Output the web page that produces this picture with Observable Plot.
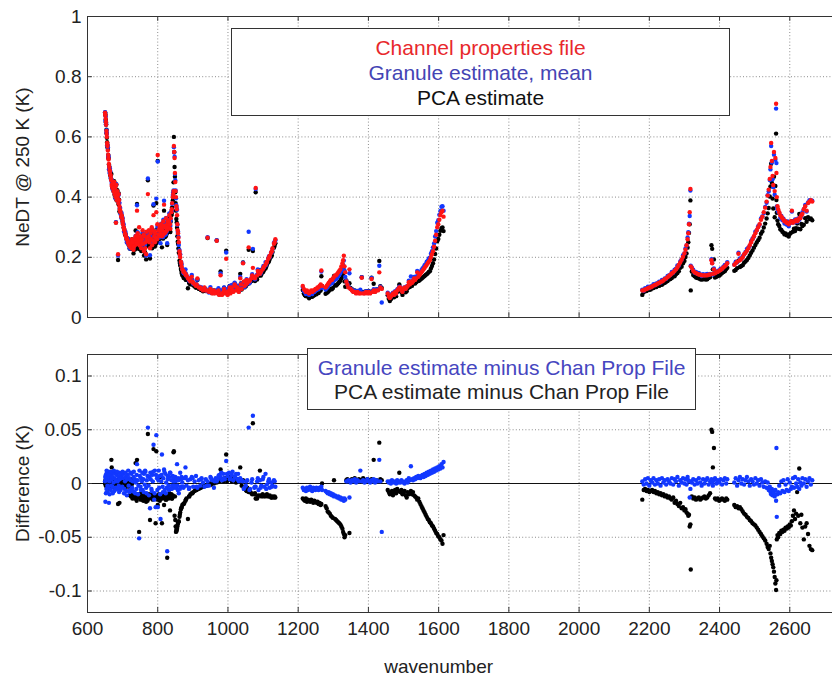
<!DOCTYPE html>
<html><head><meta charset="utf-8">
<script src="https://cdn.jsdelivr.net/npm/d3@7"></script>
<script src="https://cdn.jsdelivr.net/npm/@observablehq/plot@0.6"></script>
<style>
body{margin:0;background:#fff;font-family:"Liberation Sans",Arial,Helvetica,sans-serif;}
#wrap{position:relative;width:832px;height:675px;overflow:hidden;background:#fff;}
#wrap svg{position:absolute;left:0;}
.legend{position:absolute;box-sizing:border-box;background:#fff;border:1px solid #333;text-align:center;font-size:21px;}
</style></head><body><div id="wrap"></div>
<script>
// ---- Longwave band (wavenumber, channel-properties NeDT, granule diff, PCA diff)
const lwWave = [650,651,652,653,654,655,656,657,658,659,
660,661,662,664,666,668,669,671,673,674,
676,677,679,680,681,682,683,685,686,687,
688,689,691,692,694,697,699,701,703,705,
707,709,711,713,715,717,719,721,723,725,
727,729,731,733,735,737,739,741,743,745,
747,749,751,753,755,757,759,761,763,765,
767,769,772,774,776,778,780,782,784,786,
788,790,792,794,796,798,800,802,804,806,
808,810,812,814,816,818,820,822,824,826,
827,829,831,833,835,837,839,841,843,845,
846,848,849,850,851,852,853,855,856,858,
860,862,864,866,868,870,873,876,879,882,
886,889,893,897,901,905,909,913,917,921,
925,929,933,937,942,946,950,955,960,965,
968,971,975,979,983,987,991,995,999,1003,
1007,1011,1015,1019,1023,1027,1031,1035,1039,1043,
1047,1051,1055,1059,1063,1067,1071,1075,1079,1083,
1087,1091,1095,1099,1103,1107,1111,1115,1119,1123,
1127,1131,1135];
const lwProp = [.68,.67,.66,.64,.62,.60,.58,.57,.555,.54,
.525,.51,.50,.485,.47,.455,.44,.43,.44,.42,
.45,.41,.43,.40,.315,.44,.39,.42,.40,.21,
.38,.41,.37,.36,.35,.34,.33,.31,.30,.29,
.28,.27,.265,.26,.25,.245,.24,.235,.25,.23,
.26,.24,.225,.255,.24,.27,.25,.355,.28,.26,
.30,.25,.27,.23,.26,.29,.245,.22,.27,.25,
.21,.26,.41,.27,.25,.23,.28,.26,.24,.29,
.34,.27,.25,.28,.35,.26,.54,.29,.27,.30,
.28,.31,.27,.29,.32,.375,.28,.30,.33,.29,
.31,.32,.30,.34,.31,.33,.35,.38,.40,.42,
.57,.53,.48,.45,.42,.40,.37,.34,.31,.28,
.25,.22,.20,.185,.17,.16,.155,.15,.145,.14,
.13,.13,.12,.135,.115,.11,.105,.13,.10,.10,
.095,.09,.10,.09,.265,.085,.095,.08,.09,.085,
.255,.08,.075,.14,.075,.085,.08,.195,.075,.09,
.08,.10,.085,.11,.09,.10,.085,.13,.095,.18,
.105,.11,.115,.233,.125,.13,.165,.135,.43,.14,
.15,.145,.155,.16,.17,.175,.185,.195,.205,.215,
.23,.245,.26];
const lwGran = [.002,-.017,.008,.004,-.005,.010,-.008,.003,.011,-.004,
.006,-.018,.002,.009,-.006,.004,.007,-.003,.010,.001,
-.007,.005,.009,-.004,.002,.003,.008,-.005,.002,-.004,
.006,-.002,.010,.004,-.006,.007,-.003,.005,.009,-.005,
.002,.006,-.007,.004,.008,-.002,.005,-.006,.003,.009,
-.004,.002,.006,-.008,.004,.001,-.005,.018,.003,-.002,
-.051,.007,-.003,.005,.002,-.006,.004,.009,-.001,.011,
-.004,.003,.052,-.002,.006,-.023,.004,-.005,.008,.002,
.036,-.015,.012,-.022,.045,.005,-.022,.003,-.004,.007,
-.033,.002,.027,-.003,.005,.013,-.006,.009,.001,-.004,
-.063,.004,-.002,.006,.010,-.005,.003,-.002,.007,.002,
-.004,.004,-.003,.006,.002,-.004,.003,.018,-.002,.005,
-.009,.004,.010,-.003,.006,.001,-.004,.005,.015,-.002,
.003,-.005,.004,.006,-.003,.002,.007,-.004,.003,-.002,
.005,.001,-.003,.004,.002,-.002,.006,.003,-.004,.005,
.002,.004,.008,.006,.003,.009,.004,.021,.007,.010,
.005,.008,.003,.006,.009,.004,.002,.005,.003,.002,
-.004,-.002,.003,.052,-.005,.001,.063,-.004,-.003,.002,
-.006,.003,-.002,.004,-.003,.009,-.001,.002,-.004,.001,
-.002,.003,-.003];
const lwPca = [.000,.003,-.002,.001,.004,-.003,.002,-.004,.005,.000,
.003,-.002,.001,-.005,.004,.022,.015,.002,-.003,.000,
.003,-.002,.001,-.004,.001,.002,-.001,.003,.000,-.019,
-.003,.002,-.018,.001,-.002,.000,-.003,.002,-.001,.001,
-.004,.003,.000,-.002,.002,-.003,.001,-.001,.004,-.002,
.000,-.010,-.012,-.009,-.014,.019,-.011,.022,-.013,-.010,
-.045,-.012,-.015,-.009,-.013,-.011,-.016,-.014,-.010,-.012,
-.017,-.013,.046,-.012,-.014,-.034,-.011,-.013,-.010,-.015,
.032,-.012,-.014,-.037,.030,-.011,-.020,-.013,-.010,-.016,
.006,-.012,-.037,-.014,-.011,-.020,-.013,-.010,-.015,-.012,
-.069,-.011,-.014,-.009,-.025,-.012,-.010,-.014,-.011,.029,
.030,-.030,-.012,-.034,-.040,-.045,-.043,-.042,-.040,-.036,
-.035,-.031,-.027,-.024,-.022,-.020,-.019,-.018,-.016,-.014,
-.033,-.012,-.010,-.009,-.008,-.007,-.006,-.005,-.005,-.004,
-.003,-.003,-.002,-.002,-.001,.000,-.001,.001,.000,.002,
.001,.003,.002,.013,.004,.002,.005,.027,.003,.006,
.004,.002,.005,.003,.001,.004,.002,.015,-.002,.003,
-.005,-.006,-.004,-.008,-.007,-.009,.056,-.010,-.014,-.014,
-.011,.012,-.012,-.010,-.011,-.012,-.010,-.012,-.011,-.013,
-.012,-.013,-.013];

// ---- Longwave band, interleaved channels
const lw2Wave = [650.5,652.5,654.5,656.5,659.5,663,665,667,670,672,
675,678,684,690,693,696,700,704,708,712,
716,720,724,728,732,736,740,744,748,752,
756,760,764,768,771,775,779,783,787,791,
795,799,803,807,811,815,819,823,828,832,
836,840,844,847,854,857,859,863,867,874,
880,890,899,911,923,940,952,962,973,981,
989,997,1005,1013,1021,1029,1037,1045,1053,1061,
1069,1077,1085,1093,1101,1109,1117,1125,1133];
const lw2Prop = [.675,.65,.61,.575,.53,.49,.475,.46,.435,.445,
.43,.415,.405,.39,.355,.335,.32,.295,.275,.26,
.25,.24,.245,.25,.235,.26,.245,.27,.24,.255,
.245,.275,.23,.285,.255,.29,.26,.30,.255,.285,
.265,.31,.275,.29,.30,.275,.305,.285,.30,.32,
.295,.36,.41,.55,.36,.29,.265,.21,.18,.15,
.14,.125,.12,.11,.095,.09,.085,.08,.09,.08,
.095,.085,.10,.09,.105,.095,.11,.12,.125,.12,
.14,.13,.155,.15,.165,.18,.20,.22,.25];
const lw2Gran = [.006,-.009,.012,-.002,.008,-.010,.011,-.002,.006,-.009,
.012,-.006,.011,-.008,.009,-.004,.011,-.009,.010,-.011,
.012,-.008,.010,-.007,.011,-.009,.008,-.010,.012,-.006,
.010,-.008,.012,-.009,.007,-.011,.010,-.007,.011,-.009,
.008,-.006,.012,-.010,.008,-.008,.011,-.009,.007,-.006,
.010,-.005,.006,-.002,.004,-.006,.003,-.005,.004,-.003,
.006,-.004,.005,-.003,.004,-.002,.005,.002,.007,.010,
.005,.009,.004,.011,.006,.009,.003,-.005,.002,-.006,
.004,-.003,.005,-.004,.006,-.005,.004,-.003,.002];
const lw2Pca = [.001,-.001,.002,-.003,.002,.000,-.003,.003,-.001,.002,
.000,.003,-.002,.001,-.001,.002,-.002,.000,.002,-.001,
.001,-.011,-.012,-.014,-.010,-.013,-.016,-.011,-.013,-.012,
-.015,-.011,-.013,-.012,-.016,-.010,-.013,-.012,-.014,-.011,
-.013,-.015,-.012,-.014,-.011,-.013,-.012,-.015,-.012,-.013,
-.011,-.014,-.012,.000,-.044,-.038,-.036,-.029,-.023,-.019,
-.015,-.012,-.009,-.006,-.004,-.002,-.001,.001,.003,.003,
.004,.002,.005,.003,.004,.002,.003,-.004,-.007,-.006,
-.010,-.009,-.012,-.011,-.012,-.011,-.012,-.013,-.012];

// ---- Midwave band
const mwWave = [1213,1216,1219,1222,1225,1228,1231,1234,1237,1240,
1243,1246,1249,1252,1255,1258,1261,1264,1266,1268,
1278,1281,1284,1287,1290,1293,1296,1299,1302,1305,
1308,1311,1314,1317,1320,1323,1326,1328,1330,1332,
1334,1337,1340,1343,1346,1349,1353,1357,1361,1365,
1369,1373,1377,1381,1385,1389,1393,1397,1401,1405,
1409,1413,1415,1419,1423,1427,1431,1434,1438,1455,
1458,1461,1464,1467,1470,1473,1476,1479,1482,1485,
1488,1491,1494,1497,1500,1503,1506,1509,1512,1515,
1518,1521,1524,1527,1530,1533,1536,1539,1542,1545,
1548,1551,1554,1557,1560,1563,1566,1569,1572,1575,
1578,1581,1584,1587,1590,1593,1596,1599,1602,1605,
1608,1611,1614];
const mwProp = [.105,.095,.09,.085,.09,.085,.08,.085,.09,.085,
.09,.09,.095,.095,.10,.10,.105,.11,.156,.105,
.10,.105,.11,.115,.12,.125,.125,.13,.135,.14,
.14,.145,.15,.155,.16,.17,.18,.19,.205,.17,
.15,.12,.11,.10,.16,.095,.09,.085,.085,.08,
.085,.08,.08,.132,.08,.08,.085,.08,.085,.08,
.128,.085,.09,.085,.09,.09,.15,.10,.095,.08,
.07,.065,.07,.075,.08,.075,.085,.08,.09,.095,
.10,.10,.09,.085,.095,.10,.095,.10,.105,.117,
.11,.12,.115,.12,.13,.125,.13,.15,.135,.14,
.145,.15,.155,.16,.165,.17,.175,.18,.185,.19,
.20,.21,.22,.235,.255,.275,.30,.31,.325,.34,
.35,.355,.335];
const mwGran = [-.004,-.006,-.005,-.007,-.004,-.006,-.005,-.003,-.006,-.007,
-.004,-.005,-.006,-.004,-.005,-.006,-.004,-.005,-.003,-.006,
-.007,-.008,-.009,-.008,-.010,-.009,-.011,-.010,-.012,-.011,
-.012,-.013,-.012,-.014,-.013,-.015,-.014,-.015,-.016,-.014,
-.015,.002,.002,.003,-.013,.001,.003,.002,.004,.001,
.003,.002,.012,.002,.003,.001,.002,.004,.002,.001,
.003,.002,.004,.001,.003,.002,.022,.002,-.045,.002,
.001,.002,.000,.003,.002,.001,.002,.000,.003,.001,
.002,.001,.003,.002,.001,.000,.002,.003,.001,.005,
.003,.016,.004,.003,.005,.004,.006,.005,.007,.006,
.005,.007,.008,.006,.009,.007,.010,.008,.011,.009,
.012,.010,.013,.011,.014,.012,.015,.013,.016,.014,
.018,.015,.020];
const mwPca = [-.014,-.015,-.016,-.014,-.017,-.015,-.016,-.017,-.015,-.016,
-.018,-.016,-.017,-.018,-.017,-.019,-.018,-.020,-.019,.000,
-.021,-.023,-.026,-.027,-.028,-.030,-.031,-.032,.003,-.033,
-.034,-.035,-.036,-.037,-.038,-.040,-.042,-.045,-.047,-.050,
-.048,.003,.004,.002,-.046,.003,.004,.002,.005,.003,
.002,.004,.003,.002,.005,.003,.002,.004,.003,.002,
.004,.003,.022,.002,.003,.002,.038,.004,.003,-.006,
-.008,-.010,-.009,-.007,-.011,-.008,-.006,-.009,-.005,-.007,
.010,-.008,-.006,-.010,-.009,-.007,-.011,-.013,-.008,-.010,
-.009,-.007,-.010,-.008,-.011,-.012,-.013,-.015,-.014,-.017,
-.019,-.021,-.023,-.025,-.027,-.029,-.031,-.033,-.034,-.036,
-.037,-.039,-.040,-.042,-.044,-.046,-.047,-.049,-.050,-.052,
-.053,-.056,-.048];

// ---- Shortwave band
const swWave = [2180,2184,2188,2192,2196,2200,2204,2208,2212,2216,
2220,2224,2228,2232,2236,2240,2244,2248,2252,2256,
2260,2264,2268,2272,2276,2280,2284,2288,2292,2296,
2300,2303,2306,2309,2311,2313,2315,2317,2318,2321,
2325,2329,2333,2337,2341,2345,2349,2353,2357,2361,
2365,2369,2373,2377,2379,2381,2384,2387,2391,2395,
2399,2403,2407,2411,2415,2419,2422,2442,2446,2450,
2454,2458,2462,2466,2470,2474,2478,2482,2486,2490,
2494,2498,2502,2506,2510,2514,2518,2522,2526,2530,
2534,2537,2540,2543,2545,2547,2549,2551,2553,2555,
2557,2559,2561,2562,2563,2565,2567,2570,2573,2576,
2579,2582,2585,2588,2591,2594,2597,2600,2603,2606,
2609,2612,2615,2618,2621,2624,2627,2630,2633,2636,
2640,2644,2648,2652,2656,2660,2664];
const swProp = [.09,.09,.093,.095,.097,.10,.10,.103,.106,.108,
.11,.113,.115,.118,.12,.123,.127,.13,.134,.138,
.142,.146,.15,.155,.16,.167,.175,.183,.192,.202,
.213,.225,.24,.26,.28,.31,.35,.427,.17,.165,
.155,.15,.148,.145,.143,.142,.14,.14,.14,.14,
.14,.142,.143,.19,.18,.145,.16,.147,.15,.152,
.155,.158,.162,.166,.17,.175,.18,.175,.18,.185,
.212,.19,.195,.20,.21,.215,.222,.23,.24,.25,
.26,.27,.28,.29,.30,.31,.325,.335,.35,.365,
.385,.405,.425,.46,.50,.58,.52,.47,.44,.55,
.42,.53,.71,.48,.40,.37,.36,.35,.34,.335,
.33,.325,.32,.32,.315,.315,.31,.315,.32,.355,
.315,.32,.32,.325,.32,.325,.33,.33,.34,.345,
.36,.37,.355,.38,.385,.39,.385];
const swGran = [.002,-.001,.004,.000,.005,-.002,.003,.001,.005,-.001,
.003,.000,.004,-.002,.005,.001,.003,-.001,.004,.002,
.000,.005,-.001,.004,.002,.006,-.002,.003,.001,.005,
.000,.004,-.001,.006,.003,.002,-.013,-.005,.002,.001,
.004,-.001,.003,.000,.005,.001,-.002,.004,.000,.003,
.005,-.001,.002,.004,.001,-.002,.003,.005,.000,.003,
.001,.004,-.001,.003,.005,.000,.004,.001,.005,-.002,
.003,.006,.000,.004,-.001,.003,.006,.002,-.002,.004,
.002,-.001,.005,.000,.003,-.002,.004,.001,-.003,.002,
-.004,.001,-.006,-.003,-.008,-.010,-.005,-.011,-.007,-.009,
-.012,-.006,-.016,.033,-.031,-.010,-.008,-.002,-.009,.002,
-.007,.003,-.008,-.001,-.006,.004,-.007,.001,-.005,-.003,
.005,-.004,.006,.000,-.003,.004,-.005,.001,-.002,.005,
.000,.004,-.003,.002,.005,-.001,.003];
const swPca = [-.015,-.006,-.005,-.007,-.006,-.008,-.007,-.006,-.008,-.007,
-.009,-.008,-.010,-.009,-.011,-.010,-.012,-.011,-.013,-.012,
-.014,-.015,-.013,-.018,-.016,-.019,-.021,-.018,-.023,-.022,
-.025,-.024,-.027,-.028,-.030,-.029,-.040,-.038,-.080,-.012,
-.014,-.013,-.015,-.014,-.013,-.015,-.014,-.013,-.012,-.014,
-.013,-.011,-.009,.050,.048,.015,.033,-.014,-.015,-.014,
-.016,-.015,-.014,-.015,-.016,-.014,-.015,-.020,-.022,-.021,
-.023,-.022,-.024,-.026,-.028,-.029,-.031,-.032,-.034,-.035,
-.037,-.038,-.039,-.041,-.043,-.045,-.047,-.049,-.051,-.053,
-.056,-.059,-.061,-.058,-.065,-.069,-.072,-.075,-.078,-.082,
-.087,-.093,-.099,-.090,-.052,-.048,-.050,-.046,-.047,-.044,
-.045,-.043,-.044,-.041,-.042,-.040,-.041,-.038,-.039,-.035,
-.030,-.025,-.033,-.028,-.008,-.030,.014,-.037,-.029,-.041,
-.052,-.040,-.037,-.047,-.058,-.061,-.062];

// ---- Axis ticks and labels
const xTicks = [600,800,1000,1200,1400,1600,1800,2000,2200,2400,2600,2800];
const xTickLabels = [600,800,1000,1200,1400,1600,1800,2000,2200,2400,2600];
const topYTicks = [0,0.2,0.4,0.6,0.8,1];
const botYTicks = [-0.1,-0.05,0,0.05,0.1];
const topLegend = ["Channel properties file","Granule estimate, mean","PCA estimate"];
const botLegend = ["Granule estimate minus Chan Prop File","PCA estimate minus Chan Prop File"];

function band(wave, prop, gran, pca) {
  if (wave.length !== prop.length || wave.length !== gran.length || wave.length !== pca.length)
    throw new Error("length mismatch " + [wave.length, prop.length, gran.length, pca.length]);
  return wave.map((w, i) => ({w, prop: prop[i], gd: gran[i], pd: pca[i]}));
}
const rows = [
  ...band(lwWave, lwProp, lwGran, lwPca),
  ...band(lw2Wave, lw2Prop, lw2Gran, lw2Pca),
  ...band(mwWave, mwProp, mwGran, mwPca),
  ...band(swWave, swProp, swGran, swPca)
];

const RED = "#ff1414", BLUE = "#1238ff", INK = "#222";
const FONT = "'Liberation Sans', Arial, Helvetica, sans-serif";
const fmt = d => String(+d.toFixed(3));
const grid = {stroke: "#8c8c8c", strokeOpacity: 1, strokeDasharray: "1,2.2", strokeWidth: 1};
const R = 2.2;

const topPlot = Plot.plot({
  width: 832, height: 340,
  marginLeft: 87, marginRight: -27.5, marginTop: 16, marginBottom: 23,
  x: {domain: [600, 2800], axis: null},
  y: {domain: [0, 1]},
  style: {fontFamily: FONT, fontSize: "19px", color: INK, background: "transparent", overflow: "visible"},
  marks: [
    Plot.gridX(xTicks.slice(1), grid),
    Plot.gridY(topYTicks.slice(1, -1), grid),
    Plot.dot(rows, {x: "w", y: d => d.prop + d.pd, r: R, fill: "#000"}),
    Plot.dot(rows, {x: "w", y: d => d.prop + d.gd, r: R, fill: BLUE}),
    Plot.dot(rows, {x: "w", y: "prop", r: R, fill: RED}),
    Plot.ruleX(xTicks, {y1: 0, y2: 0.016, stroke: "#333"}),
    Plot.ruleX(xTicks, {y1: 0.984, y2: 1, stroke: "#333"}),
    Plot.ruleY(topYTicks, {x1: 600, x2: 614, stroke: "#333"}),
    Plot.frame({stroke: "#333"}),
    Plot.axisY(topYTicks, {tickSize: 0, tickPadding: 6, tickFormat: fmt, fontSize: 19, label: null}),
    Plot.text(["NeDT @ 250 K (K)"], {frameAnchor: "left", textAnchor: "middle", dx: -65, rotate: -90, fontSize: 19, fill: INK})
  ]
});

const botPlot = Plot.plot({
  width: 832, height: 335,
  marginLeft: 87, marginRight: -27.5, marginTop: 14, marginBottom: 63,
  x: {domain: [600, 2800]},
  y: {domain: [-0.12, 0.12]},
  style: {fontFamily: FONT, fontSize: "19px", color: INK, background: "transparent", overflow: "visible"},
  marks: [
    Plot.gridX(xTicks.slice(1), grid),
    Plot.gridY(botYTicks.filter(d => d !== 0), grid),
    Plot.ruleY([0], {stroke: "#111", strokeWidth: 1}),
    Plot.dot(rows, {x: "w", y: "pd", r: R, fill: "#000"}),
    Plot.dot(rows, {x: "w", y: "gd", r: R, fill: BLUE}),
    Plot.ruleX(xTicks, {y1: -0.12, y2: -0.1153, stroke: "#333"}),
    Plot.ruleX(xTicks, {y1: 0.1153, y2: 0.12, stroke: "#333"}),
    Plot.ruleY(botYTicks, {x1: 600, x2: 614, stroke: "#333"}),
    Plot.frame({stroke: "#333"}),
    Plot.axisY(botYTicks, {tickSize: 0, tickPadding: 6, tickFormat: fmt, fontSize: 19, label: null}),
    Plot.axisX(xTickLabels, {tickSize: 0, tickPadding: 9, tickFormat: d => String(d), fontSize: 19, label: null}),
    Plot.text(["Difference (K)"], {frameAnchor: "left", textAnchor: "middle", dx: -65, rotate: -90, fontSize: 19, fill: INK}),
    Plot.text(["wavenumber"], {frameAnchor: "bottom", x: 1600, dy: 60, fontSize: 19, fill: INK})
  ]
});

const wrap = document.getElementById("wrap");
topPlot.style.top = "0px";
botPlot.style.top = "340px";
wrap.appendChild(topPlot);
wrap.appendChild(botPlot);

function legend(lines, colors, box, lh, pad) {
  const d = document.createElement("div");
  d.className = "legend";
  Object.assign(d.style, {left: box[0] + "px", top: box[1] + "px", width: box[2] + "px", height: box[3] + "px", paddingTop: pad + "px", lineHeight: lh + "px"});
  lines.forEach((t, i) => {
    const s = document.createElement("div");
    s.textContent = t;
    s.style.color = colors[i];
    d.appendChild(s);
  });
  wrap.appendChild(d);
}
legend(topLegend, ["#e8282c", "#4444b4", "#111"], [231, 28, 499, 88], 25, 6);
legend(botLegend, ["#4646c0", "#222"], [307, 348, 389, 62], 24, 7);
</script></body></html>
